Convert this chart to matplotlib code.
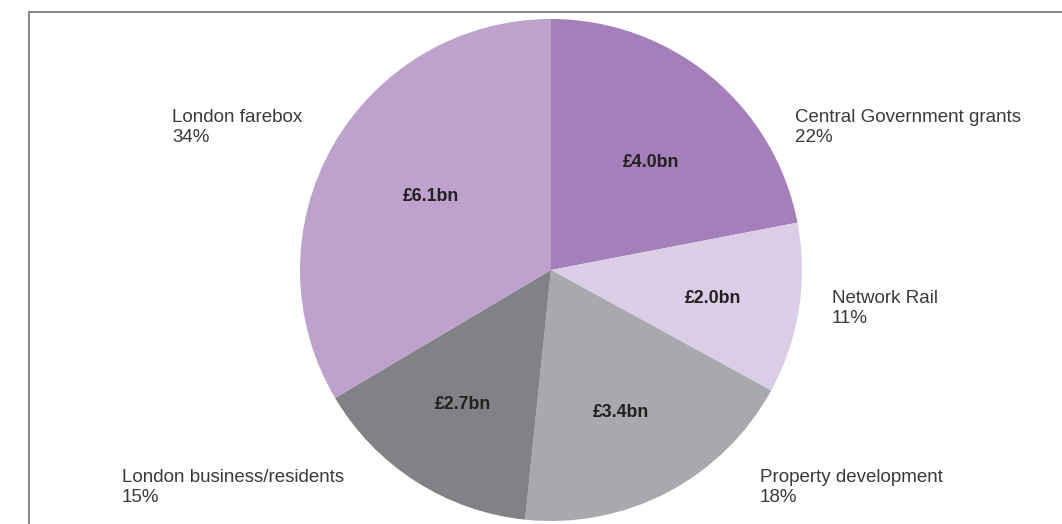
import numpy as np
import matplotlib
matplotlib.use("Agg")
import matplotlib.pyplot as plt
from matplotlib.patches import Rectangle

categories = ["Central Government grants", "Network Rail", "Property development",
              "London business/residents", "London farebox"]
values_bn = [4.0, 2.0, 3.4, 2.7, 6.1]
pct_labels = ["22%", "11%", "18%", "15%", "34%"]
value_labels = ["£4.0bn", "£2.0bn", "£3.4bn", "£2.7bn", "£6.1bn"]
colors = ["#A57FBA", "#DACDE5", "#A8A9AC", "#818285", "#BDA2CC"]

W, H = 1062, 524
CX, CY, R = 551, H - 270, 251
fig = plt.figure(figsize=(W / 100, H / 100), dpi=100)
ax = fig.add_axes([0, 0, 1, 1])

wedges, texts = ax.pie(
    values_bn, colors=colors, startangle=90, counterclock=False,
    center=(CX, CY), radius=R, wedgeprops=dict(linewidth=0),
)

# value labels inside wedges (per-label radial fraction / angle nudge = layout)
rad_frac = [0.59, 0.655, 0.625, 0.635, 0.565]
ang_nudge = [-2.9, -0.5, -1.3, -1.0, -2.3]
for w, lab, rf, an in zip(wedges, value_labels, rad_frac, ang_nudge):
    mid = np.deg2rad((w.theta1 + w.theta2) / 2 + an)
    ax.text(w.center[0] + rf * w.r * np.cos(mid), w.center[1] + rf * w.r * np.sin(mid) - 2,
            lab, ha="center", va="center", fontsize=12.8, fontweight="bold",
            color="#231F20", family="Liberation Sans")

# outer labels (layout positions in pixel space)
label_pos = [(795, 109), (832, 290), (760, 469), (122, 469), (172, 109)]
for (x, y), name, pct in zip(label_pos, categories, pct_labels):
    ax.text(x, H - y, f"{name}\n{pct}", ha="left", va="top", fontsize=13.5,
            color="#3A3A3A", family="Liberation Sans", linespacing=1.25)

ax.add_patch(Rectangle((29, -10), W, H - 12 + 10, fill=False,
                       edgecolor="#8A8A8A", linewidth=1.5, clip_on=False))

ax.set_xlim(0, W)
ax.set_ylim(0, H)
ax.set_aspect("auto")
ax.axis("off")
fig.savefig("out.png", dpi=100)
